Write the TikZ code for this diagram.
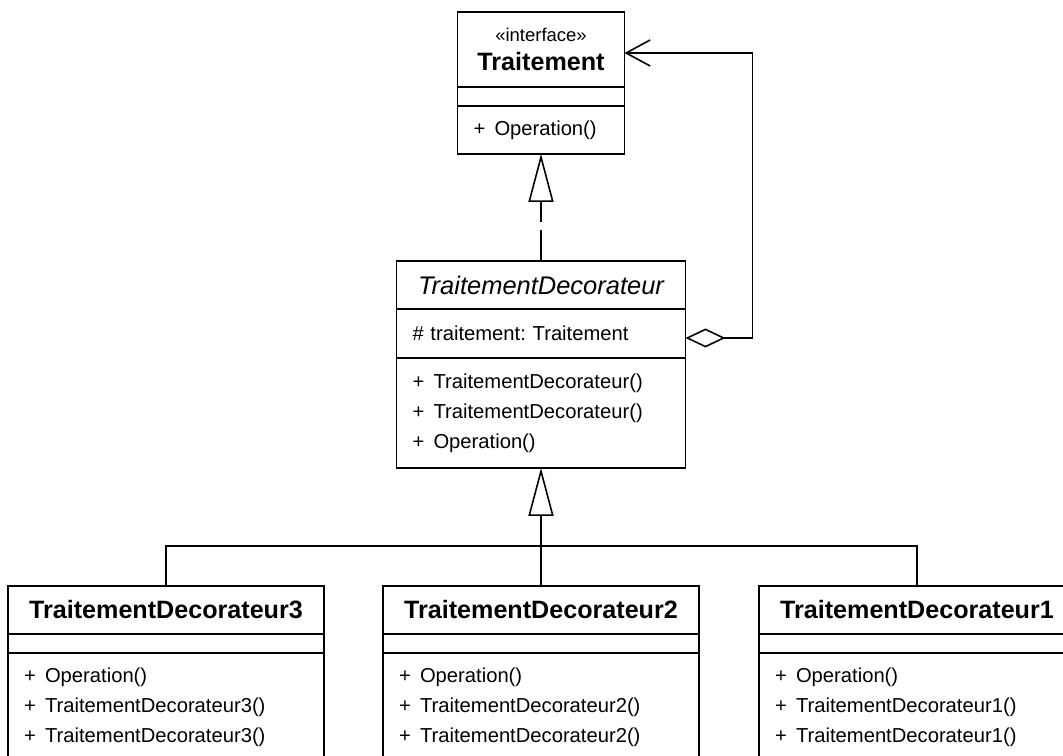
\documentclass[tikz,border=0pt]{standalone}
\usepackage{fontspec}
\setmainfont{Liberation Sans}
\usetikzlibrary{positioning,arrows.meta}
\frenchspacing

\tikzset{
    classtitle/.style={draw, line width=0.9pt, outer sep=0pt, inner sep=0pt,
        anchor=north, align=center, font=\fontsize{14.3}{17}\selectfont\bfseries},
    classpart/.style={draw, line width=0.9pt, outer sep=0pt, inner xsep=0.32cm,
        inner ysep=0pt, align=left, font=\fontsize{11.5}{17}\selectfont},
    realize/.style={line width=0.9pt, dash pattern=on 17.6pt off 4.5pt on 40pt off 4.5pt,
        -{Triangle[open,length=0.96cm,width=0.5cm]}},
    inherit/.style={line width=0.9pt, -{Triangle[open,length=0.96cm,width=0.5cm]}},
    aggregate/.style={line width=0.9pt,
        {Diamond[open,length=0.8cm,width=0.38cm]}-{Straight Barb[length=0.48cm,width=0.52cm]}},
}
\newcommand{\umlop}[1]{\makebox[0.42cm][l]{+}#1}

\begin{document}
\begin{tikzpicture}[x=0.02cm, y=-0.02cm]
    \clip (0,0) rectangle (1063,756);
    \fill[white] (0,0) rectangle (1063,756);

    % interface
    \node[classtitle, minimum width=3.34cm, minimum height=1.5cm] (trt-name) at (541,12)
        {{\mdseries\fontsize{10.5}{17}\selectfont «interface»}\\Traitement};
    \node[classpart, text width=2.7cm, minimum height=0.38cm, below=0pt of trt-name] (trt-attr) {};
    \node[classpart, text width=2.7cm, minimum height=0.96cm, below=0pt of trt-attr] (trt-ops)
        {\umlop{Operation()}};

    % abstract decorator
    \node[classtitle, minimum width=5.78cm, minimum height=0.96cm,
        font=\fontsize{14.5}{17}\selectfont\itshape] (dec-name) at (541,261) {TraitementDecorateur};
    \node[classpart, text width=5.14cm, minimum height=0.98cm, below=0pt of dec-name] (dec-attr)
        {\# traitement: Traitement};
    \node[classpart, text width=5.14cm, minimum height=2.2cm, below=0pt of dec-attr] (dec-ops)
        {\umlop{TraitementDecorateur()}\\\umlop{TraitementDecorateur()}\\\umlop{Operation()}};

    % concrete decorators
    \foreach \num/\xpos in {3/166, 2/541, 1/917} {
        \node[classtitle, minimum width=6.32cm, minimum height=0.96cm] (td\num-name)
            at (\xpos,586) {TraitementDecorateur\num};
        \node[classpart, text width=5.68cm, minimum height=0.38cm, below=0pt of td\num-name]
            (td\num-attr) {};
        \node[classpart, text width=5.68cm, minimum height=2.16cm, below=0pt of td\num-attr]
            (td\num-ops) {\umlop{Operation()}\\\umlop{TraitementDecorateur\num()}\\
            \umlop{TraitementDecorateur\num()}};
    }

    \draw[realize] (dec-name.north) -- (trt-ops.south);
    \draw[aggregate] ([yshift=-0.09cm]dec-attr.east) -- ++(67,0) |- ([yshift=-0.07cm]trt-name.east);
    \draw[inherit] (td2-name.north) -- ++(0,-40) coordinate (bus) -- (dec-ops.south);
    \draw[line width=0.9pt] (td3-name.north) |- (bus) -| (td1-name.north);
\end{tikzpicture}
\end{document}
